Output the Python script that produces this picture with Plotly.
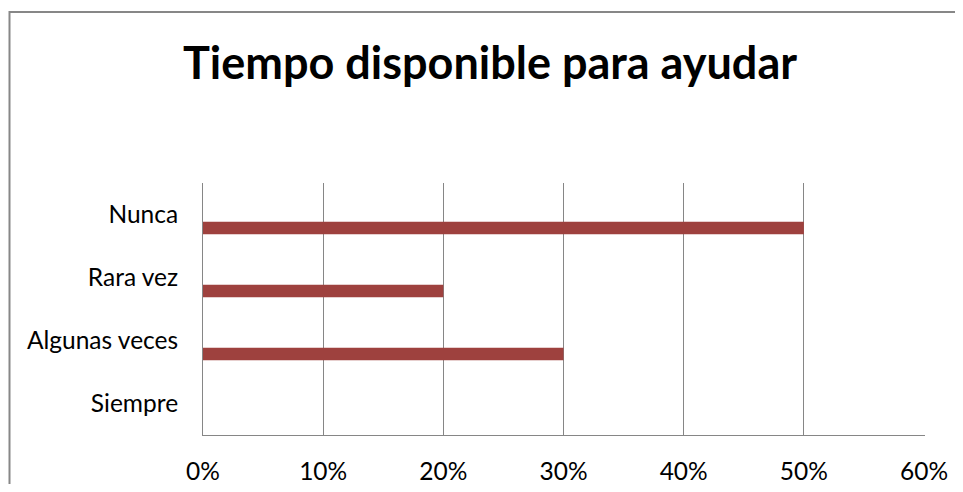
import plotly.graph_objects as go

categories = ["Siempre", "Algunas veces", "Rara vez", "Nunca"]
values = [0.0, 0.30, 0.20, 0.50]
x_ticks = [0, 0.1, 0.2, 0.3, 0.4, 0.5, 0.6]
x_tick_labels = ["0%", "10%", "20%", "30%", "40%", "50%", "60%"]
title_text = "Tiempo disponible para ayudar"

# page body has an 8px margin; figure sized to fit inside it
W, H = 947, 476
L, R, T, B = 195, 30, 175, 49
PW, PH = W - L - R, H - T - B

fig = go.Figure()
fig.add_trace(go.Bar(
    y=categories, x=values, orientation="h",
    width=0.2, offset=-0.315,
    marker=dict(color="#9E413E", line=dict(width=0)),
    hoverinfo="x+y",
))

grid = "#868686"
fig.update_layout(
    width=W, height=H,
    margin=dict(l=L, r=R, t=T, b=B, autoexpand=False),
    paper_bgcolor="white", plot_bgcolor="white",
    showlegend=False,
    title=dict(text=f"<b>{title_text}</b>", x=(490 - 8) / W, xanchor="center",
               y=1 - 55 / H, yanchor="middle", yref="container",
               font=dict(family="Lato", size=45, color="black")),
    font=dict(family="Lato", size=24.5, color="black"),
    xaxis=dict(range=[0, 0.6008], tickvals=x_ticks, ticktext=x_tick_labels,
               showgrid=True, gridcolor=grid, gridwidth=1,
               showline=True, linecolor=grid, linewidth=1,
               zeroline=False, ticks="", ticklabelstandoff=15,
               automargin=False, fixedrange=True),
    yaxis=dict(categoryorder="array", categoryarray=categories,
               showgrid=False, showline=True, linecolor=grid, linewidth=1,
               zeroline=False, ticks="", ticklabelstandoff=19,
               automargin=False, fixedrange=True),
    shapes=[dict(type="rect", xref="paper", yref="paper",
                 x0=(1.5 - L) / PW, x1=1.5,
                 y0=-0.8, y1=(H - B - 4) / PH,
                 line=dict(color="#878787", width=2), fillcolor="rgba(0,0,0,0)",
                 layer="below")],
)

fig.write_html("out.html")
